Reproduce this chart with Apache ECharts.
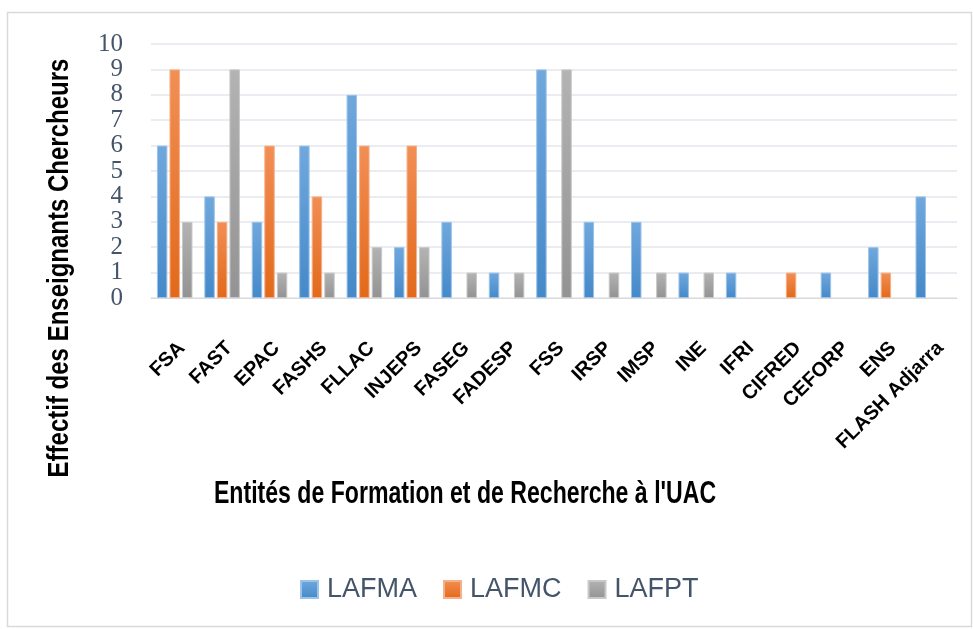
<!DOCTYPE html>
<html>
<head>
<meta charset="utf-8">
<script src="https://cdn.jsdelivr.net/npm/echarts@6/dist/echarts.min.js"></script>
<style>
  html, body { margin: 0; padding: 0; background: #fff; }
  #chart { width: 973px; height: 629px; }
</style>
</head>
<body>
<div id="chart"></div>
<script>
// catégories (axe X)
var categories = ['FSA', 'FAST', 'EPAC', 'FASHS', 'FLLAC', 'INJEPS', 'FASEG', 'FADESP', 'FSS',
    'IRSP', 'IMSP', 'INE', 'IFRI', 'CIFRED', 'CEFORP', 'ENS', 'FLASH Adjarra'];

// séries
var lafma = [6, 4, 3, 6, 8, 2, 3, 1, 9, 3, 3, 1, 1, 0, 1, 2, 4];
var lafmc = [9, 3, 6, 4, 6, 6, 0, 0, 0, 0, 0, 0, 0, 1, 0, 1, 0];
var lafpt = [3, 9, 1, 1, 2, 2, 1, 1, 9, 1, 1, 1, 0, 0, 0, 0, 0];

var yTicks = [0, 1, 2, 3, 4, 5, 6, 7, 8, 9, 10];

var chart = echarts.init(document.getElementById('chart'));

// dégradé vertical pour les barres
function grad(top, bottom) {
    return new echarts.graphic.LinearGradient(0, 0, 0, 1, [
        { offset: 0, color: top },
        { offset: 1, color: bottom }
    ]);
}

function serie(name, data, top, bottom, border) {
    return {
        name: name,
        type: 'bar',
        data: data.map(function (v) { return v === 0 ? null : v; }),
        barGap: '20%',
        barCategoryGap: '25%',
        itemStyle: {
            color: grad(top, bottom),
            borderColor: border,
            borderWidth: 1
        }
    };
}

var option = {
    animation: false,
    textStyle: { fontFamily: 'Liberation Sans, Arial, sans-serif' },
    color: ['#5b9bd5', '#ed7d31', '#a5a5a5'],
    grid: { left: 151, right: 16, top: 44, bottom: 331 },
    legend: {
        left: 300,
        top: 576,
        padding: 0,
        itemWidth: 17,
        itemHeight: 17,
        itemGap: 26,
        icon: 'rect',
        textStyle: { fontSize: 27, color: '#44546a', padding: [0, 0, 0, 4] },
        data: ['LAFMA', 'LAFMC', 'LAFPT']
    },
    xAxis: {
        type: 'category',
        data: categories,
        axisLine: { lineStyle: { color: '#d9d9d9' } },
        axisTick: { show: false },
        axisLabel: {
            interval: 0,
            rotate: 45,
            margin: 40,
            verticalAlign: 'top',
            fontSize: 20,
            fontWeight: 'bold',
            color: '#000'
        }
    },
    yAxis: {
        type: 'value',
        min: yTicks[0],
        max: yTicks[yTicks.length - 1],
        interval: 1,
        axisLabel: {
            fontSize: 25,
            color: '#44546a',
            margin: 28,
            fontFamily: 'Liberation Serif, serif'
        },
        splitLine: { lineStyle: { color: '#e3e6ec', width: 1.5 } }
    },
    graphic: [
        {
            type: 'rect',
            left: 5, top: 10,
            shape: { width: 964, height: 614 },
            style: { fill: 'none', stroke: '#d9d9d9', lineWidth: 1.5 },
            z: -1
        },
        {
            type: 'text',
            x: 60, y: 268,
            rotation: Math.PI / 2,
            scaleX: 0.8,
            style: {
                text: 'Effectif des Enseignants Chercheurs',
                font: 'bold 30px Liberation Sans, Arial, sans-serif',
                fill: '#000',
                align: 'center',
                verticalAlign: 'middle'
            }
        },
        {
            type: 'text',
            x: 465, y: 494,
            scaleX: 0.745,
            style: {
                text: "Entités de Formation et de Recherche à l'UAC",
                font: 'bold 31px Liberation Sans, Arial, sans-serif',
                fill: '#000',
                align: 'center',
                verticalAlign: 'middle'
            }
        }
    ],
    series: [
        serie('LAFMA', lafma, '#70a8dd', '#4589c9', '#9cc3e8'),
        serie('LAFMC', lafmc, '#f28f55', '#e2691a', '#f5b08a'),
        serie('LAFPT', lafpt, '#b3b3b3', '#939393', '#c8c8c8')
    ]
};

chart.setOption(option);
</script>
</body>
</html>
